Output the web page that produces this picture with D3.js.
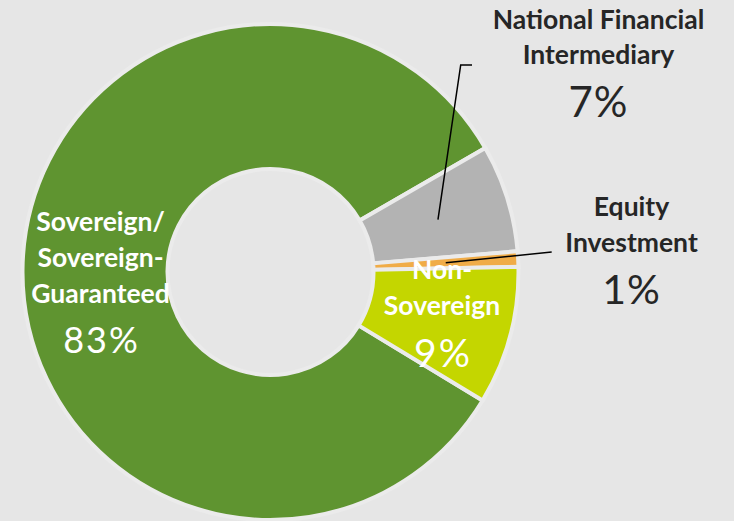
<!DOCTYPE html>
<html>
<head>
<meta charset="utf-8">
<script src="https://cdn.jsdelivr.net/npm/d3@7"></script>
<style>
  html, body { margin: 0; padding: 0; background: #e6e6e6; }
  svg { display: block; }
</style>
</head>
<body>
<script>
// data
var categories = ["Sovereign/Sovereign-Guaranteed", "National Financial Intermediary", "Equity Investment", "Non-Sovereign"];
var values = [83, 7, 1, 9];
var labelLines = [["Sovereign/", "Sovereign-", "Guaranteed"], ["National Financial", "Intermediary"], ["Equity", "Investment"], ["Non-", "Sovereign"]];
var pctLabels = ["83%", "7%", "1%", "9%"];
var colors = ["#5f9430", "#b3b3b3", "#f0ac48", "#c4d600"];

var width = 734, height = 521;
var cx = 270.5, cy = 272;
var outerR = 248, innerR = 103;
var labelFont = "26.5px";

var svg = d3.select("body")
    .append("svg")
    .attr("width", width)
    .attr("height", height);

svg.append("rect")
    .attr("width", width)
    .attr("height", height)
    .attr("fill", "#e6e6e6");

var pie = d3.pie()
    .sort(null)
    .value(function (d) { return d; })
    .startAngle(121.2 * Math.PI / 180)
    .endAngle(121.2 * Math.PI / 180 + 2 * Math.PI);

var arc = d3.arc().innerRadius(innerR).outerRadius(outerR);

var arcs = pie(values);

var g = svg.append("g").attr("transform", "translate(" + cx + "," + cy + ")");

g.selectAll("path.slice")
    .data(arcs)
    .enter()
    .append("path")
    .attr("class", "slice")
    .attr("d", arc)
    .attr("fill", function (d, i) { return colors[i]; })
    .attr("stroke", "#ebebeb")
    .attr("stroke-width", 4)
    .attr("stroke-linejoin", "miter");

// inside labels (white), placed from the arc centroid
var inside = [
    { i: 0, dx: 5.5, top: -39, pct: 82.5, pctSize: 36, gap: 35.8 },
    { i: 3, dx: 2, top: -38.4, pct: 49.3, pctSize: 39, gap: 36 }
];
inside.forEach(function (o) {
    var c = arc.centroid(arcs[o.i]);
    labelLines[o.i].forEach(function (line, k) {
        g.append("text")
            .attr("x", c[0] + o.dx)
            .attr("y", c[1] + o.top + k * o.gap)
            .attr("text-anchor", "middle")
            .attr("fill", "#ffffff")
            .style("font-family", "Lato, 'Open Sans', sans-serif")
            .style("font-size", labelFont)
            .style("font-weight", "bold")
            .text(line);
    });
    g.append("text")
        .attr("x", c[0] + o.dx + 1)
        .attr("y", c[1] + o.pct)
        .attr("text-anchor", "middle")
        .attr("fill", "#ffffff")
        .style("font-family", "Lato, 'Open Sans', sans-serif")
        .style("font-size", o.pctSize + "px")
        .style("letter-spacing", "2px")
        .text(pctLabels[o.i]);
});

// outside labels with leader lines
var outside = [
    { i: 1, x: 598.5, base: [29.3, 64], pctY: 117.3, pctSize: 42, elbow: [460.7, 65], end: [472, 65] },
    { i: 2, x: 631.5, base: [216, 251.7], pctY: 304.3, pctSize: 41, elbow: null, end: [551.7, 252] }
];
outside.forEach(function (o) {
    var c = arc.centroid(arcs[o.i]);
    var pts = [[cx + c[0], cy + c[1]]];
    if (o.elbow) pts.push(o.elbow);
    pts.push(o.end);
    svg.append("path")
        .attr("d", d3.line()(pts))
        .attr("fill", "none")
        .attr("stroke", "#000000")
        .attr("stroke-width", 1.5);

    labelLines[o.i].forEach(function (line, k) {
        svg.append("text")
            .attr("x", o.x)
            .attr("y", o.base[k])
            .attr("text-anchor", "middle")
            .attr("fill", "#262626")
            .style("font-family", "Lato, 'Open Sans', sans-serif")
            .style("font-size", labelFont)
            .style("font-weight", "bold")
            .text(line);
    });
    svg.append("text")
        .attr("x", o.x)
        .attr("y", o.pctY)
        .attr("text-anchor", "middle")
        .attr("fill", "#262626")
        .style("font-family", "Lato, 'Open Sans', sans-serif")
        .style("font-size", o.pctSize + "px")
        .style("letter-spacing", "1px")
        .text(pctLabels[o.i]);
});
</script>
</body>
</html>
